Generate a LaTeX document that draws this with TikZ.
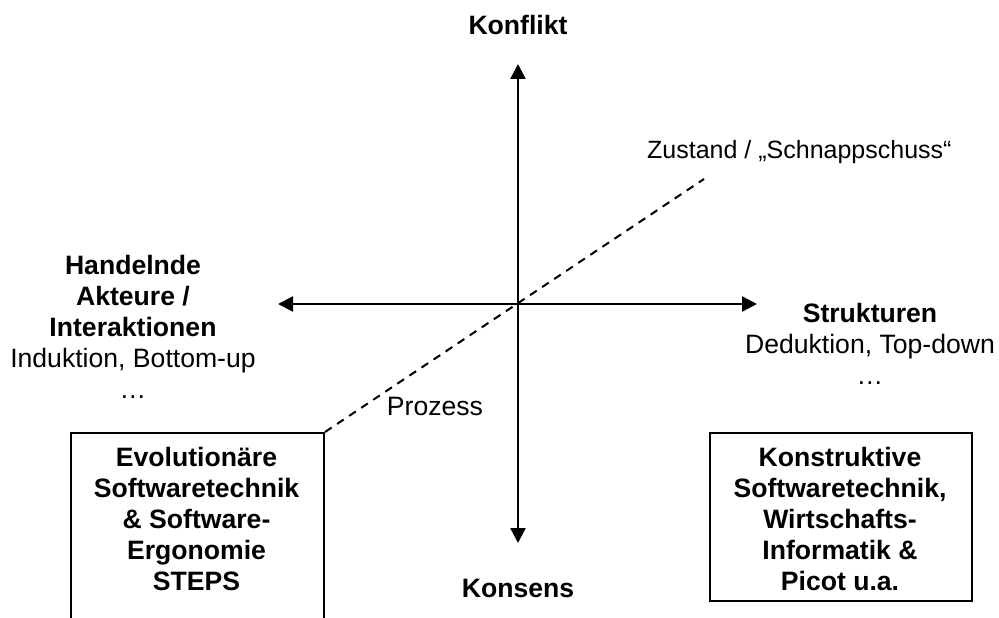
\documentclass[tikz,border=0pt]{standalone}
\usepackage{fontspec}
\setmainfont{Liberation Sans}
\usetikzlibrary{arrows.meta}
\begin{document}
\begin{tikzpicture}[x=1pt,y=-1pt,
  axis/.style={line width=2.4pt,
    {Triangle[width=15pt,length=15pt]}-{Triangle[width=15pt,length=15pt]}},
  process/.style={line width=2pt, dash pattern=on 8pt off 6.5pt},
  box/.style={draw, line width=2pt, rectangle, inner sep=0pt},
  lbl/.style={font=\fontsize{26.6}{31}\selectfont, align=center, inner sep=0pt},
  head/.style={lbl, font=\fontsize{26.6}{31}\selectfont\bfseries},
]
\useasboundingbox (0,0) rectangle (999,618);
\clip (0,0) rectangle (999,618);

% axes
\coordinate (up) at (518,64);
\coordinate (down) at (518,543);
\coordinate (left) at (278,304);
\coordinate (right) at (757,304);
\draw[axis] (down) -- (up);
\draw[axis] (left) -- (right);

% boxes (the left one runs past the lower edge)
\node[box, minimum width=253pt, minimum height=220pt, anchor=north west] (evo) at (70,432) {};
\node[box, minimum width=262pt, minimum height=168pt, anchor=north west] (kon) at (709,432) {};

% process line
\coordinate (snap) at (704,179);
\draw[process] (evo.north east) -- (snap);

% axis labels
\node[head, anchor=base] (konflikt) at (518,35) {Konflikt};
\node[head, anchor=base] (konsens) at (518,597) {Konsens};
\node[lbl, anchor=north] (akteure) at (133,255)
  {\textbf{Handelnde}\\\textbf{Akteure /}\\\textbf{Interaktionen}\\Induktion, Bottom-up\\…};
\node[lbl, anchor=north] (strukturen) at (870,303)
  {\textbf{Strukturen}\\Deduktion, Top-down\\…};
\node[lbl, font=\fontsize{25}{29}\selectfont, anchor=base west] (zustand) at (647,158)
  {Zustand / „Schnappschuss“};
\node[lbl, anchor=base] (prozess) at (435,415) {Prozess};

% box texts
\node[head, anchor=north] (evotext) at (196.5,447)
  {Evolutionäre\\Softwaretechnik\\\& Software-\\Ergonomie\\STEPS};
\node[head, anchor=north] (kontext) at (840,447)
  {Konstruktive\\Softwaretechnik,\\Wirtschafts-\\Informatik \&\\Picot u.a.};
\end{tikzpicture}
\end{document}
